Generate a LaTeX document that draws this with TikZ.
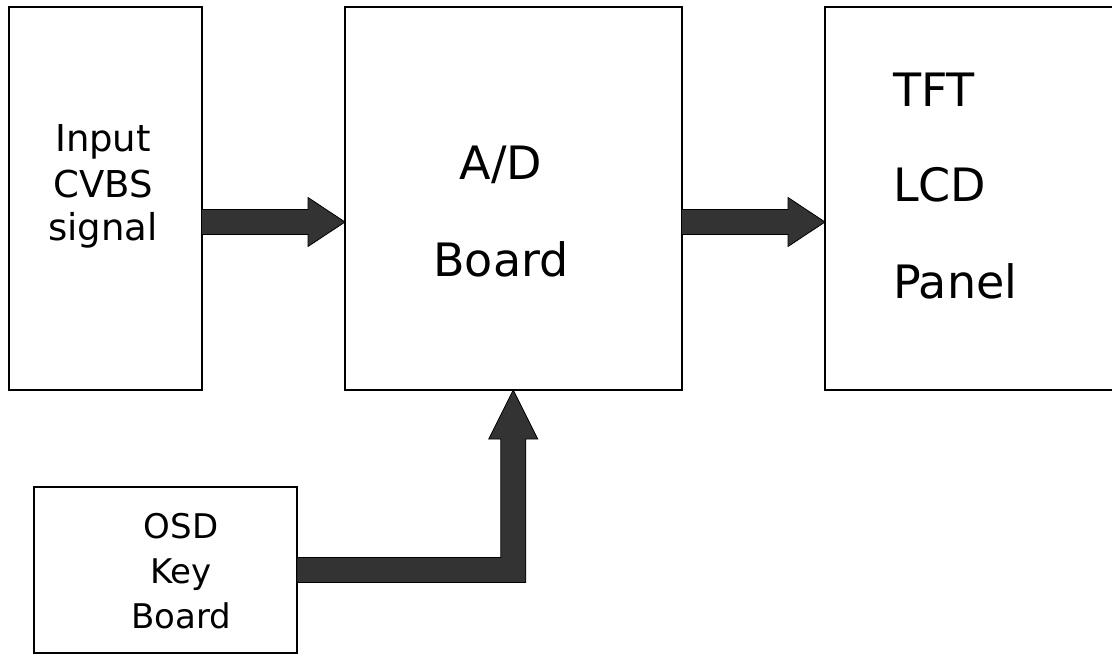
\documentclass[tikz,border=0pt]{standalone}
\usepackage{fontspec}
\setmainfont{DejaVu Sans}
\usetikzlibrary{calc}
\definecolor{arrowfill}{HTML}{333333}
\tikzset{
  box/.style={draw=black, line width=2pt, rectangle, inner sep=0pt, outer sep=0pt},
  blockarrow/.style={fill=arrowfill, draw=black, line width=0.8pt, line join=miter},
  lblA/.style={anchor=base, inner sep=0pt, font=\fontsize{37}{40}\selectfont},
  lblB/.style={anchor=base, inner sep=0pt, font=\fontsize{46}{50}\selectfont},
  lblC/.style={anchor=base west, inner sep=0pt, font=\fontsize{46}{50}\selectfont},
  lblD/.style={anchor=base, inner sep=0pt, font=\fontsize{34}{38}\selectfont},
}
\newcommand\myharrow[3]{%
  \coordinate (#3s) at ($(#1)+(0,23.5)$);
  \coordinate (#3e) at (#2 |- #3s);
  \filldraw[blockarrow] ($(#3s)+(0,-12.5)$) -- ($(#3e)+(-37,-12.5)$) -- ($(#3e)+(-37,-24.5)$)
    -- (#3e) -- ($(#3e)+(-37,24.5)$) -- ($(#3e)+(-37,12.5)$) -- ($(#3s)+(0,12.5)$) -- cycle;
}
\begin{document}
\begin{tikzpicture}[x=1pt, y=-1pt]
\useasboundingbox (0,0) rectangle (1112,655);
% boxes
\node[box, minimum width=192.5pt, minimum height=383pt] (in) at (105.25,198.5) {};
\node[box, minimum width=336.5pt, minimum height=383pt] (ad) at (513.25,198.5) {};
\node[box, minimum width=289pt, minimum height=383pt] (tft) at (969.5,198.5) {};
\node[box, minimum width=263.5pt, minimum height=166pt] (osd) at (165.25,570) {};
% labels
\node[lblA] (in1) at (103,152) {Input};
\node[lblA] (in2) at (103,198) {CVBS};
\node[lblA] (in3) at (103,241) {signal};
\node[lblB] (ad1) at (501,180) {A/D};
\node[lblB] (ad2) at (501,277) {Board};
\node[lblC] (tft1) at (893,107) {TFT};
\node[lblC] (tft2) at (893,202) {LCD};
\node[lblC] (tft3) at (893,299) {Panel};
\node[lblD] (osd1) at (181,538) {OSD};
\node[lblD] (osd2) at (181,583) {Key};
\node[lblD] (osd3) at (181,628) {Board};
% arrows
\myharrow{in.east}{ad.west}{arrA}
\myharrow{ad.east}{tft.west}{arrB}
\coordinate (corner) at (ad.south |- osd.east);
\filldraw[blockarrow] ($(osd.east)+(0,-12.5)$) -- ($(corner)+(-12.5,-12.5)$)
  -- ($(ad.south)+(-12.5,49)$) -- ($(ad.south)+(-24.5,49)$) -- (ad.south)
  -- ($(ad.south)+(24.5,49)$) -- ($(ad.south)+(12.5,49)$)
  -- ($(corner)+(12.5,12.5)$) -- ($(osd.east)+(0,12.5)$) -- cycle;
\end{tikzpicture}
\end{document}
